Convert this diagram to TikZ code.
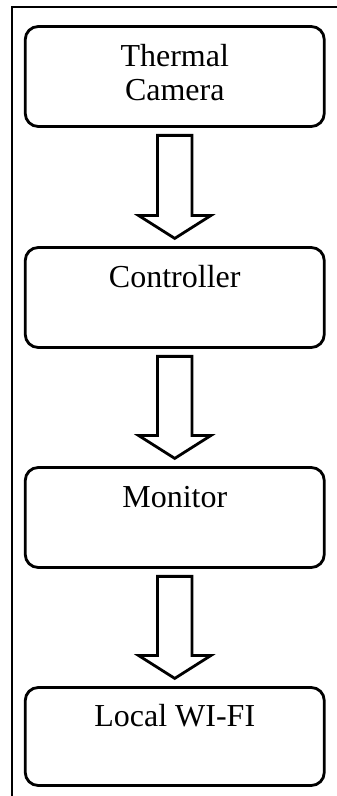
\documentclass[tikz,border=0pt]{standalone}
\usepackage{fontspec}
\setmainfont{Liberation Serif}
\usetikzlibrary{calc}

\begin{document}
\begin{tikzpicture}[x=1pt,y=1pt,
	box/.style={draw,rounded corners=13pt,line width=2.8pt,minimum width=299pt,minimum height=100pt,inner sep=0pt,align=center,font=\fontsize{32}{34}\selectfont},
	blockarrow/.style={line width=2.8pt,to path={
		($(\tikztostart)+(-17.25,-7.5)$) -- ($(\tikztotarget)+(-17.25,30.5)$) -- ($(\tikztotarget)+(-36,30.5)$) -- ($(\tikztotarget)+(0,7.7)$) -- ($(\tikztotarget)+(36,30.5)$) -- ($(\tikztotarget)+(17.25,30.5)$) -- ($(\tikztostart)+(17.25,-7.5)$) -- cycle}}]
			
			\useasboundingbox (0,0) rectangle (337,796);
			\draw[line width=2pt] (337,789) -| (12,0);
			
			\node[box] (cam) at (174.75,719.5) {\strut Thermal\\\strut Camera};
			\node[box] (ctrl) at (174.75,498.5) {\strut Controller\\\strut};
			\node[box] (mon) at (174.75,278.5) {\strut Monitor\\\strut};
			\node[box,minimum height=98pt] (wifi) at (174.75,59.5) {\strut Local WI-FI\\\strut};
			
			\draw[blockarrow] (cam.south) to (ctrl.north);
			\draw[blockarrow] (ctrl.south) to (mon.north);
			\draw[blockarrow] (mon.south) to (wifi.north);
			
		\end{tikzpicture}
\end{document}
